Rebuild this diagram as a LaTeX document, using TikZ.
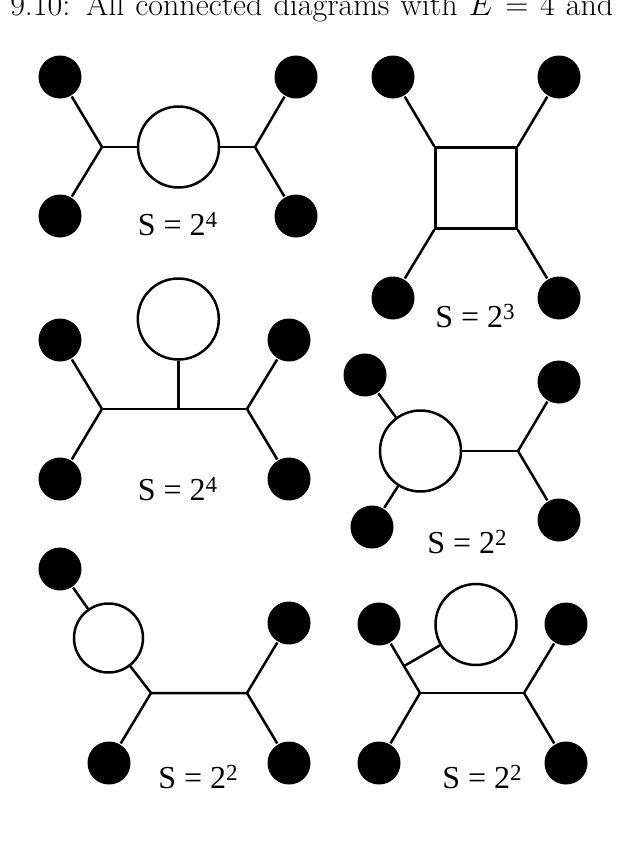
\RequirePackage{fix-cm}
\documentclass[tikz,border=0pt]{standalone}
\usepackage{fontspec}
\usetikzlibrary{calc}
\newfontfamily\lblfont{Liberation Serif}
\newcommand*{\dotsz }{43pt}
\newcommand*{\loopsz}{81pt}
\newcommand*{\symf}[1]{S = 2\raisebox{8pt}{\fontsize{23}{23}\selectfont #1}}
\tikzset{
    ext/.style    = {circle, fill=black, draw=none, minimum size=\dotsz, inner sep=0pt},
    bubble/.style = {circle, draw=black, fill=white, minimum size=\loopsz, inner sep=0pt},
    sym/.style    = {anchor=base, inner sep=0pt, font=\lblfont\fontsize{32}{36}\selectfont},
}

\begin{document}
\begin{tikzpicture}[x=1pt, y=-1pt, line width=2.5pt]
    \useasboundingbox (0,0) rectangle (622,852);
    \clip (0,0) rectangle (622,852);
        \node [anchor=base west, inner sep=0pt] (ttl) at (9,15) {\fontsize{32}{36}\selectfont\makebox[603pt][s]{9.10: All connected diagrams with $E = 4$ and}};
        % first row
        \node [ext] (a1) at ( 60, 77) {};
        \node [ext] (b1) at ( 60,216) {};
        \node [ext] (c1) at (296, 77) {};
        \node [ext] (d1) at (296,216) {};
        \node [bubble] (l1) at (178.5,147) {};
        \coordinate (u1) at (102,147);
        \coordinate (w1) at (255,147);
        \draw (a1) -- (u1) -- (b1);
        \draw (u1) -- (l1) -- (w1);
        \draw (c1) -- (w1) -- (d1);
        \node [sym] (s1) at (177.5,235) {\symf{4}};

        \node [ext] (a2) at (393, 77) {};
        \node [ext] (b2) at (393,298) {};
        \node [ext] (c2) at (559, 77) {};
        \node [ext] (d2) at (559,298) {};
        \node [draw, minimum size=81pt, inner sep=0pt] (q2) at (476,188) {};
        \draw (a2) -- (q2.north west);
        \draw (b2) -- (q2.south west);
        \draw (c2) -- (q2.north east);
        \draw (d2) -- (q2.south east);
        \node [sym] (s2) at (475,327) {\symf{3}};
        % second row
        \node [ext] (a3) at ( 60,340) {};
        \node [ext] (b3) at ( 60,479) {};
        \node [ext] (c3) at (289,340) {};
        \node [ext] (d3) at (289,479) {};
        \node [bubble] (l3) at (178.3,319) {};
        \coordinate (u3) at (102,409);
        \coordinate (m3) at (178.3,409);
        \coordinate (w3) at (247,409);
        \draw (a3) -- (u3) -- (b3);
        \draw (u3) -- (w3);
        \draw (m3) -- (l3);
        \draw (c3) -- (w3) -- (d3);
        \node [sym] (s3) at (177.5,500) {\symf{4}};

        \node [ext] (a4) at (365,375) {};
        \node [ext] (b4) at (372,527) {};
        \node [ext] (c4) at (559,382) {};
        \node [ext] (d4) at (559,520) {};
        \node [bubble] (l4) at (420.5,451) {};
        \coordinate (w4) at (518,451);
        \draw (a4) -- (l4) -- (b4);
        \draw (l4) -- (w4);
        \draw (c4) -- (w4) -- (d4);
        \node [sym] (s4) at (467,553) {\symf{2}};
        % third row
        \node [ext] (a5) at ( 60,569) {};
        \node [ext] (b5) at (109,763) {};
        \node [ext] (c5) at (289,623) {};
        \node [ext] (d5) at (289,763) {};
        \node [bubble, minimum size=69pt] (l5) at (108.5,638) {};
        \coordinate (u5) at (151,693);
        \coordinate (w5) at (247,693);
        \draw (a5) -- (l5) -- (u5);
        \draw (b5) -- (u5) -- (w5);
        \draw (c5) -- (w5) -- (d5);
        \node [sym] (s5) at (198,788) {\symf{2}};

        \node [ext] (a6) at (379,624) {};
        \node [ext] (b6) at (379,763) {};
        \node [ext] (c6) at (566,624) {};
        \node [ext] (d6) at (566,763) {};
        \node [bubble] (l6) at (476,624.5) {};
        \coordinate (u6) at (420,693);
        \coordinate (w6) at (524,693);
        \coordinate (t6) at ($(a6)!0.61!(u6)$);
        \draw (a6) -- (u6) -- (b6);
        \draw (u6) -- (w6);
        \draw (t6) -- (l6);
        \draw (c6) -- (w6) -- (d6);
        \node [sym] (s6) at (482,788) {\symf{2}};
    \end{tikzpicture}
\end{document}
